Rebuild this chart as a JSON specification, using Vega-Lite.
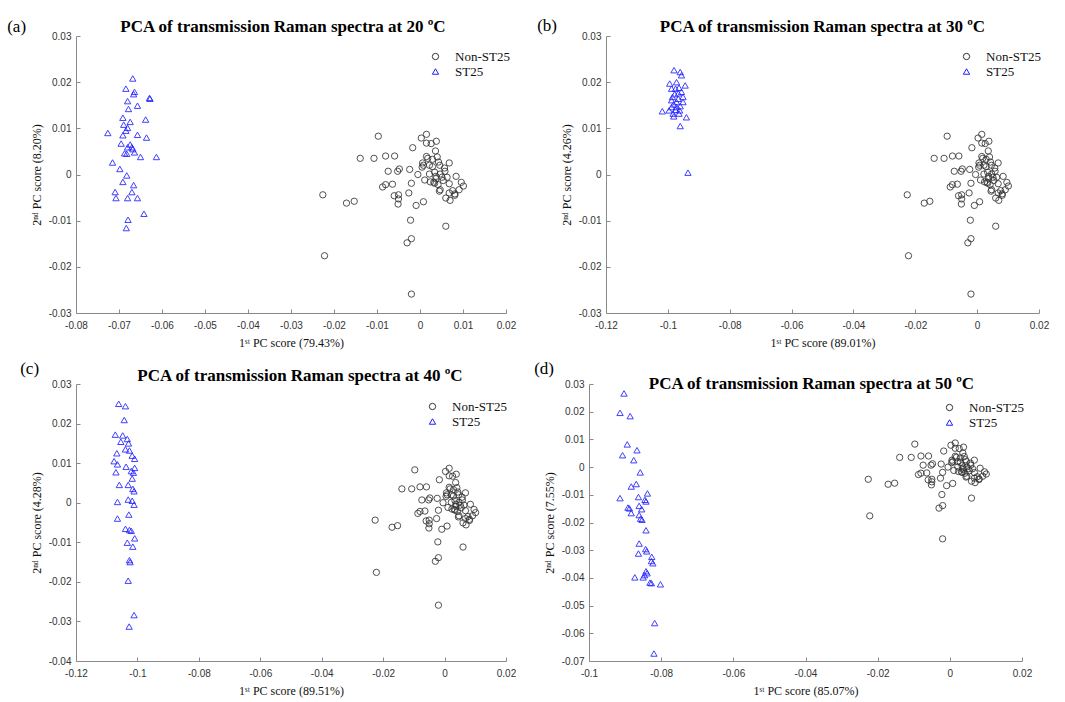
{
"$schema": "https://vega.github.io/schema/vega-lite/v6.json",
"background": "white",
"padding": {"left": 7, "top": 17, "right": 5, "bottom": 5},
"datasets": {
"non": [
{"group":"Non-ST25","pc1":-0.0226,"pc2":-0.0044},{"group":"Non-ST25","pc1":-0.0222,"pc2":-0.0176},{"group":"Non-ST25","pc1":-0.0171,"pc2":-0.0062},{"group":"Non-ST25","pc1":-0.0153,"pc2":-0.0058},{"group":"Non-ST25","pc1":-0.0139,"pc2":0.0035},{"group":"Non-ST25","pc1":-0.0107,"pc2":0.0035},{"group":"Non-ST25","pc1":-0.0097,"pc2":0.0083},{"group":"Non-ST25","pc1":-0.0080,"pc2":0.0040},{"group":"Non-ST25","pc1":-0.0059,"pc2":0.0040},{"group":"Non-ST25","pc1":-0.0074,"pc2":0.0007},{"group":"Non-ST25","pc1":-0.0052,"pc2":0.0007},{"group":"Non-ST25","pc1":-0.0048,"pc2":0.0012},{"group":"Non-ST25","pc1":-0.0087,"pc2":-0.0027},{"group":"Non-ST25","pc1":-0.0080,"pc2":-0.0022},{"group":"Non-ST25","pc1":-0.0064,"pc2":-0.0021},{"group":"Non-ST25","pc1":-0.0060,"pc2":-0.0046},{"group":"Non-ST25","pc1":-0.0050,"pc2":-0.0044},{"group":"Non-ST25","pc1":-0.0050,"pc2":-0.0053},{"group":"Non-ST25","pc1":-0.0051,"pc2":-0.0064},{"group":"Non-ST25","pc1":-0.0024,"pc2":0.0011},{"group":"Non-ST25","pc1":-0.0020,"pc2":-0.0019},{"group":"Non-ST25","pc1":-0.0026,"pc2":-0.0040},{"group":"Non-ST25","pc1":-0.0009,"pc2":-0.0067},{"group":"Non-ST25","pc1":0.0008,"pc2":-0.0059},{"group":"Non-ST25","pc1":-0.0017,"pc2":0.0058},{"group":"Non-ST25","pc1":-0.0022,"pc2":-0.0099},{"group":"Non-ST25","pc1":-0.0020,"pc2":-0.0139},{"group":"Non-ST25","pc1":-0.0030,"pc2":-0.0148},{"group":"Non-ST25","pc1":-0.0020,"pc2":-0.0259},{"group":"Non-ST25","pc1":0.0060,"pc2":-0.0112},{"group":"Non-ST25","pc1":-0.0005,"pc2":0.0000},{"group":"Non-ST25","pc1":0.0003,"pc2":0.0079},{"group":"Non-ST25","pc1":0.0015,"pc2":0.0087},{"group":"Non-ST25","pc1":0.0026,"pc2":0.0067},{"group":"Non-ST25","pc1":0.0038,"pc2":0.0072},{"group":"Non-ST25","pc1":0.0015,"pc2":0.0068},{"group":"Non-ST25","pc1":0.0006,"pc2":0.0025},{"group":"Non-ST25","pc1":0.0015,"pc2":0.0039},{"group":"Non-ST25","pc1":0.0018,"pc2":0.0035},{"group":"Non-ST25","pc1":0.0036,"pc2":0.0051},{"group":"Non-ST25","pc1":0.0040,"pc2":0.0038},{"group":"Non-ST25","pc1":0.0043,"pc2":0.0027},{"group":"Non-ST25","pc1":0.0046,"pc2":0.0020},{"group":"Non-ST25","pc1":0.0029,"pc2":0.0017},{"group":"Non-ST25","pc1":0.0022,"pc2":0.0001},{"group":"Non-ST25","pc1":0.0034,"pc2":0.0005},{"group":"Non-ST25","pc1":0.0037,"pc2":-0.0009},{"group":"Non-ST25","pc1":0.0047,"pc2":0.0001},{"group":"Non-ST25","pc1":0.0051,"pc2":-0.0006},{"group":"Non-ST25","pc1":0.0058,"pc2":0.0007},{"group":"Non-ST25","pc1":0.0068,"pc2":0.0025},{"group":"Non-ST25","pc1":0.0063,"pc2":-0.0006},{"group":"Non-ST25","pc1":0.0034,"pc2":-0.0019},{"group":"Non-ST25","pc1":0.0047,"pc2":-0.0033},{"group":"Non-ST25","pc1":0.0045,"pc2":-0.0036},{"group":"Non-ST25","pc1":0.0068,"pc2":-0.0020},{"group":"Non-ST25","pc1":0.0068,"pc2":-0.0040},{"group":"Non-ST25","pc1":0.0081,"pc2":-0.0042},{"group":"Non-ST25","pc1":0.0084,"pc2":-0.0004},{"group":"Non-ST25","pc1":0.0091,"pc2":-0.0033},{"group":"Non-ST25","pc1":0.0101,"pc2":-0.0025},{"group":"Non-ST25","pc1":0.0096,"pc2":-0.0017},{"group":"Non-ST25","pc1":0.0060,"pc2":-0.0051},{"group":"Non-ST25","pc1":0.0070,"pc2":-0.0056},{"group":"Non-ST25","pc1":0.0081,"pc2":-0.0045},{"group":"Non-ST25","pc1":0.0008,"pc2":0.0020},{"group":"Non-ST25","pc1":0.0022,"pc2":0.0020},{"group":"Non-ST25","pc1":0.0011,"pc2":-0.0012},{"group":"Non-ST25","pc1":0.0024,"pc2":-0.0016},{"group":"Non-ST25","pc1":0.0054,"pc2":-0.0013},{"group":"Non-ST25","pc1":0.0037,"pc2":-0.0004},{"group":"Non-ST25","pc1":0.0057,"pc2":0.0014},{"group":"Non-ST25","pc1":0.0029,"pc2":0.0033},{"group":"Non-ST25","pc1":0.0005,"pc2":0.0016},{"group":"Non-ST25","pc1":0.0032,"pc2":-0.0017},{"group":"Non-ST25","pc1":0.0042,"pc2":-0.0022},{"group":"Non-ST25","pc1":0.0076,"pc2":-0.0035}
],
"st": [
{"panel":"a","group":"ST25","pc1":-0.0668,"pc2":0.0208},{"panel":"a","group":"ST25","pc1":-0.0684,"pc2":0.0186},{"panel":"a","group":"ST25","pc1":-0.0664,"pc2":0.0179},{"panel":"a","group":"ST25","pc1":-0.0666,"pc2":0.0174},{"panel":"a","group":"ST25","pc1":-0.0629,"pc2":0.0166},{"panel":"a","group":"ST25","pc1":-0.0628,"pc2":0.0164},{"panel":"a","group":"ST25","pc1":-0.0680,"pc2":0.0159},{"panel":"a","group":"ST25","pc1":-0.0657,"pc2":0.0149},{"panel":"a","group":"ST25","pc1":-0.0678,"pc2":0.0142},{"panel":"a","group":"ST25","pc1":-0.0638,"pc2":0.0119},{"panel":"a","group":"ST25","pc1":-0.0691,"pc2":0.0123},{"panel":"a","group":"ST25","pc1":-0.0674,"pc2":0.0114},{"panel":"a","group":"ST25","pc1":-0.0689,"pc2":0.0108},{"panel":"a","group":"ST25","pc1":-0.0680,"pc2":0.0101},{"panel":"a","group":"ST25","pc1":-0.0684,"pc2":0.0095},{"panel":"a","group":"ST25","pc1":-0.0726,"pc2":0.0090},{"panel":"a","group":"ST25","pc1":-0.0657,"pc2":0.0086},{"panel":"a","group":"ST25","pc1":-0.0691,"pc2":0.0085},{"panel":"a","group":"ST25","pc1":-0.0636,"pc2":0.0080},{"panel":"a","group":"ST25","pc1":-0.0695,"pc2":0.0067},{"panel":"a","group":"ST25","pc1":-0.0674,"pc2":0.0065},{"panel":"a","group":"ST25","pc1":-0.0680,"pc2":0.0059},{"panel":"a","group":"ST25","pc1":-0.0668,"pc2":0.0055},{"panel":"a","group":"ST25","pc1":-0.0670,"pc2":0.0059},{"panel":"a","group":"ST25","pc1":-0.0664,"pc2":0.0048},{"panel":"a","group":"ST25","pc1":-0.0687,"pc2":0.0046},{"panel":"a","group":"ST25","pc1":-0.0682,"pc2":0.0045},{"panel":"a","group":"ST25","pc1":-0.0650,"pc2":0.0038},{"panel":"a","group":"ST25","pc1":-0.0613,"pc2":0.0038},{"panel":"a","group":"ST25","pc1":-0.0715,"pc2":0.0026},{"panel":"a","group":"ST25","pc1":-0.0698,"pc2":0.0012},{"panel":"a","group":"ST25","pc1":-0.0682,"pc2":-0.0002},{"panel":"a","group":"ST25","pc1":-0.0691,"pc2":-0.0016},{"panel":"a","group":"ST25","pc1":-0.0666,"pc2":-0.0023},{"panel":"a","group":"ST25","pc1":-0.0709,"pc2":-0.0038},{"panel":"a","group":"ST25","pc1":-0.0670,"pc2":-0.0038},{"panel":"a","group":"ST25","pc1":-0.0707,"pc2":-0.0051},{"panel":"a","group":"ST25","pc1":-0.0680,"pc2":-0.0051},{"panel":"a","group":"ST25","pc1":-0.0657,"pc2":-0.0051},{"panel":"a","group":"ST25","pc1":-0.0642,"pc2":-0.0085},{"panel":"a","group":"ST25","pc1":-0.0679,"pc2":-0.0098},{"panel":"a","group":"ST25","pc1":-0.0683,"pc2":-0.0116},
{"panel":"b","group":"ST25","pc1":-0.0980,"pc2":0.0226},{"panel":"b","group":"ST25","pc1":-0.0960,"pc2":0.0222},{"panel":"b","group":"ST25","pc1":-0.0956,"pc2":0.0215},{"panel":"b","group":"ST25","pc1":-0.0994,"pc2":0.0197},{"panel":"b","group":"ST25","pc1":-0.0972,"pc2":0.0200},{"panel":"b","group":"ST25","pc1":-0.0944,"pc2":0.0193},{"panel":"b","group":"ST25","pc1":-0.0988,"pc2":0.0186},{"panel":"b","group":"ST25","pc1":-0.0964,"pc2":0.0188},{"panel":"b","group":"ST25","pc1":-0.0978,"pc2":0.0174},{"panel":"b","group":"ST25","pc1":-0.0956,"pc2":0.0179},{"panel":"b","group":"ST25","pc1":-0.0988,"pc2":0.0161},{"panel":"b","group":"ST25","pc1":-0.0966,"pc2":0.0164},{"panel":"b","group":"ST25","pc1":-0.0951,"pc2":0.0157},{"panel":"b","group":"ST25","pc1":-0.0981,"pc2":0.0152},{"panel":"b","group":"ST25","pc1":-0.0972,"pc2":0.0146},{"panel":"b","group":"ST25","pc1":-0.0960,"pc2":0.0148},{"panel":"b","group":"ST25","pc1":-0.1018,"pc2":0.0137},{"panel":"b","group":"ST25","pc1":-0.0996,"pc2":0.0139},{"panel":"b","group":"ST25","pc1":-0.0983,"pc2":0.0132},{"panel":"b","group":"ST25","pc1":-0.0964,"pc2":0.0132},{"panel":"b","group":"ST25","pc1":-0.0981,"pc2":0.0126},{"panel":"b","group":"ST25","pc1":-0.0940,"pc2":0.0124},{"panel":"b","group":"ST25","pc1":-0.0960,"pc2":0.0105},{"panel":"b","group":"ST25","pc1":-0.0935,"pc2":0.0004},{"panel":"b","group":"ST25","pc1":-0.0975,"pc2":0.0140},{"panel":"b","group":"ST25","pc1":-0.0966,"pc2":0.0176},{"panel":"b","group":"ST25","pc1":-0.0985,"pc2":0.0168},{"panel":"b","group":"ST25","pc1":-0.0972,"pc2":0.0157},{"panel":"b","group":"ST25","pc1":-0.0962,"pc2":0.0139},{"panel":"b","group":"ST25","pc1":-0.0975,"pc2":0.0186},{"panel":"b","group":"ST25","pc1":-0.0951,"pc2":0.0168},{"panel":"b","group":"ST25","pc1":-0.0988,"pc2":0.0146},
{"panel":"c","group":"ST25","pc1":-0.1061,"pc2":0.0250},{"panel":"c","group":"ST25","pc1":-0.1039,"pc2":0.0244},{"panel":"c","group":"ST25","pc1":-0.1043,"pc2":0.0209},{"panel":"c","group":"ST25","pc1":-0.1072,"pc2":0.0172},{"panel":"c","group":"ST25","pc1":-0.1048,"pc2":0.0170},{"panel":"c","group":"ST25","pc1":-0.1033,"pc2":0.0161},{"panel":"c","group":"ST25","pc1":-0.1054,"pc2":0.0154},{"panel":"c","group":"ST25","pc1":-0.1029,"pc2":0.0150},{"panel":"c","group":"ST25","pc1":-0.1039,"pc2":0.0135},{"panel":"c","group":"ST25","pc1":-0.1026,"pc2":0.0132},{"panel":"c","group":"ST25","pc1":-0.1067,"pc2":0.0125},{"panel":"c","group":"ST25","pc1":-0.1017,"pc2":0.0119},{"panel":"c","group":"ST25","pc1":-0.1009,"pc2":0.0111},{"panel":"c","group":"ST25","pc1":-0.1076,"pc2":0.0105},{"panel":"c","group":"ST25","pc1":-0.1065,"pc2":0.0097},{"panel":"c","group":"ST25","pc1":-0.1037,"pc2":0.0091},{"panel":"c","group":"ST25","pc1":-0.1009,"pc2":0.0088},{"panel":"c","group":"ST25","pc1":-0.1020,"pc2":0.0080},{"panel":"c","group":"ST25","pc1":-0.1013,"pc2":0.0076},{"panel":"c","group":"ST25","pc1":-0.1070,"pc2":0.0077},{"panel":"c","group":"ST25","pc1":-0.1017,"pc2":0.0061},{"panel":"c","group":"ST25","pc1":-0.1059,"pc2":0.0045},{"panel":"c","group":"ST25","pc1":-0.1030,"pc2":0.0045},{"panel":"c","group":"ST25","pc1":-0.1015,"pc2":0.0035},{"panel":"c","group":"ST25","pc1":-0.1011,"pc2":0.0029},{"panel":"c","group":"ST25","pc1":-0.1065,"pc2":0.0002},{"panel":"c","group":"ST25","pc1":-0.1030,"pc2":0.0008},{"panel":"c","group":"ST25","pc1":-0.1017,"pc2":0.0005},{"panel":"c","group":"ST25","pc1":-0.1011,"pc2":-0.0005},{"panel":"c","group":"ST25","pc1":-0.1028,"pc2":-0.0030},{"panel":"c","group":"ST25","pc1":-0.1065,"pc2":-0.0040},{"panel":"c","group":"ST25","pc1":-0.1039,"pc2":-0.0066},{"panel":"c","group":"ST25","pc1":-0.1026,"pc2":-0.0069},{"panel":"c","group":"ST25","pc1":-0.1020,"pc2":-0.0071},{"panel":"c","group":"ST25","pc1":-0.1009,"pc2":-0.0090},{"panel":"c","group":"ST25","pc1":-0.1033,"pc2":-0.0101},{"panel":"c","group":"ST25","pc1":-0.1015,"pc2":-0.0111},{"panel":"c","group":"ST25","pc1":-0.1026,"pc2":-0.0145},{"panel":"c","group":"ST25","pc1":-0.1024,"pc2":-0.0150},{"panel":"c","group":"ST25","pc1":-0.1030,"pc2":-0.0197},{"panel":"c","group":"ST25","pc1":-0.1011,"pc2":-0.0284},{"panel":"c","group":"ST25","pc1":-0.1027,"pc2":-0.0313},
{"panel":"d","group":"ST25","pc1":-0.0903,"pc2":0.0266},{"panel":"d","group":"ST25","pc1":-0.0914,"pc2":0.0196},{"panel":"d","group":"ST25","pc1":-0.0886,"pc2":0.0184},{"panel":"d","group":"ST25","pc1":-0.0894,"pc2":0.0082},{"panel":"d","group":"ST25","pc1":-0.0867,"pc2":0.0061},{"panel":"d","group":"ST25","pc1":-0.0907,"pc2":0.0043},{"panel":"d","group":"ST25","pc1":-0.0876,"pc2":0.0025},{"panel":"d","group":"ST25","pc1":-0.0858,"pc2":-0.0019},{"panel":"d","group":"ST25","pc1":-0.0869,"pc2":-0.0061},{"panel":"d","group":"ST25","pc1":-0.0883,"pc2":-0.0070},{"panel":"d","group":"ST25","pc1":-0.0914,"pc2":-0.0112},{"panel":"d","group":"ST25","pc1":-0.0838,"pc2":-0.0095},{"panel":"d","group":"ST25","pc1":-0.0863,"pc2":-0.0108},{"panel":"d","group":"ST25","pc1":-0.0845,"pc2":-0.0118},{"panel":"d","group":"ST25","pc1":-0.0842,"pc2":-0.0124},{"panel":"d","group":"ST25","pc1":-0.0892,"pc2":-0.0146},{"panel":"d","group":"ST25","pc1":-0.0888,"pc2":-0.0149},{"panel":"d","group":"ST25","pc1":-0.0861,"pc2":-0.0140},{"panel":"d","group":"ST25","pc1":-0.0854,"pc2":-0.0152},{"panel":"d","group":"ST25","pc1":-0.0883,"pc2":-0.0166},{"panel":"d","group":"ST25","pc1":-0.0861,"pc2":-0.0173},{"panel":"d","group":"ST25","pc1":-0.0857,"pc2":-0.0186},{"panel":"d","group":"ST25","pc1":-0.0853,"pc2":-0.0190},{"panel":"d","group":"ST25","pc1":-0.0842,"pc2":-0.0228},{"panel":"d","group":"ST25","pc1":-0.0861,"pc2":-0.0276},{"panel":"d","group":"ST25","pc1":-0.0843,"pc2":-0.0296},{"panel":"d","group":"ST25","pc1":-0.0840,"pc2":-0.0304},{"panel":"d","group":"ST25","pc1":-0.0863,"pc2":-0.0312},{"panel":"d","group":"ST25","pc1":-0.0826,"pc2":-0.0324},{"panel":"d","group":"ST25","pc1":-0.0827,"pc2":-0.0339},{"panel":"d","group":"ST25","pc1":-0.0823,"pc2":-0.0347},{"panel":"d","group":"ST25","pc1":-0.0842,"pc2":-0.0376},{"panel":"d","group":"ST25","pc1":-0.0839,"pc2":-0.0383},{"panel":"d","group":"ST25","pc1":-0.0846,"pc2":-0.0390},{"panel":"d","group":"ST25","pc1":-0.0873,"pc2":-0.0398},{"panel":"d","group":"ST25","pc1":-0.0850,"pc2":-0.0398},{"panel":"d","group":"ST25","pc1":-0.0831,"pc2":-0.0417},{"panel":"d","group":"ST25","pc1":-0.0827,"pc2":-0.0419},{"panel":"d","group":"ST25","pc1":-0.0802,"pc2":-0.0423},{"panel":"d","group":"ST25","pc1":-0.0818,"pc2":-0.0563},{"panel":"d","group":"ST25","pc1":-0.0820,"pc2":-0.0673}
]
},
"config": {
"view": {"stroke": null},
"axis": {"grid": false, "labelFlush": false, "labelFont": "Liberation Sans", "labelFontSize": 10, "labelColor": "#333333", "domainColor": "#8a8a8a", "tickColor": "#8a8a8a", "tickSize": -4, "titleFont": "Liberation Serif", "titleFontSize": 12, "titleFontWeight": "normal", "titleColor": "#111111"},
"axisX": {"labelPadding": 11, "titlePadding": 7},
"axisY": {"labelPadding": 9, "titlePadding": 5},
"title": {"font": "Liberation Serif", "fontSize": 17, "fontWeight": "bold", "color": "#000000", "offset": -3},
"legend": {"orient": "none", "title": null, "labelFont": "Liberation Serif", "labelFontSize": 13, "labelColor": "#111111", "symbolSize": 40, "symbolStrokeWidth": 1, "rowPadding": 1, "padding": 0, "labelOffset": 13},
"point": {"filled": false, "size": 40, "strokeWidth": 1, "opacity": 0.85}
},
"resolve": {"scale": {"color": "independent", "shape": "independent"}},
"spacing": 12,
"vconcat": [
{
"spacing": 21,
"resolve": {"scale": {"color": "independent", "shape": "independent"}},
"hconcat": [
{
"title": {"text": "(a)", "anchor": "start", "font": "Liberation Serif", "fontSize": 17, "fontWeight": "normal", "offset": 0, "dy": 18, "dx": -23},
"resolve": {"scale": {"color": "independent", "shape": "independent"}},
"vconcat": [{
"width": 430, "height": 277,
"title": {"text": "PCA of transmission Raman spectra at 20 ºC", "dx": -8, "dy": 2},
"encoding": {
"x": {"field": "pc1", "type": "quantitative", "scale": {"domain": [-0.08, 0.02], "nice": false, "zero": false}, "axis": {"title": "1ˢᵗ PC score (79.43%)", "values": [-0.08, -0.07, -0.06, -0.05, -0.04, -0.03, -0.02, -0.01, 0, 0.01, 0.02], "labelExpr": "'' + datum.value"}},
"y": {"field": "pc2", "type": "quantitative", "scale": {"domain": [-0.03, 0.03], "nice": false, "zero": false}, "axis": {"title": "2ⁿᵈ PC score (8.20%)", "values": [-0.03, -0.02, -0.01, 0, 0.01, 0.02, 0.03], "labelExpr": "'' + datum.value"}},
"color": {"field": "group", "type": "nominal", "scale": {"domain": ["Non-ST25", "ST25"], "range": ["#333333", "#1f1fff"]}, "legend": {"legendX": 353, "legendY": 14, "labelFont": "Liberation Serif"}},
"shape": {"field": "group", "type": "nominal", "scale": {"domain": ["Non-ST25", "ST25"], "range": ["circle", "triangle-up"]}}
},
"layer": [
{"data": {"name": "non"}, "mark": "point"},
{"data": {"name": "st"}, "transform": [{"filter": "datum.panel == 'a'"}], "mark": "point"}
]
}]
},
{
"title": {"text": "(b)", "anchor": "start", "font": "Liberation Serif", "fontSize": 17, "fontWeight": "normal", "offset": 0, "dy": 17, "dx": -23},
"resolve": {"scale": {"color": "independent", "shape": "independent"}},
"vconcat": [{
"width": 433, "height": 277,
"title": {"text": "PCA of transmission Raman spectra at 30 ºC", "dx": 0, "dy": 2},
"encoding": {
"x": {"field": "pc1", "type": "quantitative", "scale": {"domain": [-0.12, 0.02], "nice": false, "zero": false}, "axis": {"title": "1ˢᵗ PC score (89.01%)", "values": [-0.12, -0.1, -0.08, -0.06, -0.04, -0.02, 0, 0.02], "labelExpr": "'' + datum.value"}},
"y": {"field": "pc2", "type": "quantitative", "scale": {"domain": [-0.03, 0.03], "nice": false, "zero": false}, "axis": {"title": "2ⁿᵈ PC score (4.26%)", "values": [-0.03, -0.02, -0.01, 0, 0.01, 0.02, 0.03], "labelExpr": "'' + datum.value"}},
"color": {"field": "group", "type": "nominal", "scale": {"domain": ["Non-ST25", "ST25"], "range": ["#333333", "#1f1fff"]}, "legend": {"legendX": 354, "legendY": 14, "labelFont": "Liberation Serif"}},
"shape": {"field": "group", "type": "nominal", "scale": {"domain": ["Non-ST25", "ST25"], "range": ["circle", "triangle-up"]}}
},
"layer": [
{"data": {"name": "non"}, "mark": "point"},
{"data": {"name": "st"}, "transform": [{"filter": "datum.panel == 'b'"}], "mark": "point"}
]
}]
}
]
},
{
"spacing": 18,
"resolve": {"scale": {"color": "independent", "shape": "independent"}},
"hconcat": [
{
"title": {"text": "(c)", "anchor": "start", "font": "Liberation Serif", "fontSize": 17, "fontWeight": "normal", "offset": 0, "dy": 11, "dx": -10},
"resolve": {"scale": {"color": "independent", "shape": "independent"}},
"vconcat": [{
"width": 430, "height": 277,
"title": {"text": "PCA of transmission Raman spectra at 40 ºC", "dx": 9, "dy": 3},
"encoding": {
"x": {"field": "pc1", "type": "quantitative", "scale": {"domain": [-0.12, 0.02], "nice": false, "zero": false}, "axis": {"title": "1ˢᵗ PC score (89.51%)", "values": [-0.12, -0.1, -0.08, -0.06, -0.04, -0.02, 0, 0.02], "labelExpr": "'' + datum.value"}},
"y": {"field": "pc2", "type": "quantitative", "scale": {"domain": [-0.04, 0.03], "nice": false, "zero": false}, "axis": {"title": "2ⁿᵈ PC score (4.28%)", "values": [-0.04, -0.03, -0.02, -0.01, 0, 0.01, 0.02, 0.03], "labelExpr": "'' + datum.value"}},
"color": {"field": "group", "type": "nominal", "scale": {"domain": ["Non-ST25", "ST25"], "range": ["#333333", "#1f1fff"]}, "legend": {"legendX": 350, "legendY": 16, "labelFont": "Liberation Serif"}},
"shape": {"field": "group", "type": "nominal", "scale": {"domain": ["Non-ST25", "ST25"], "range": ["circle", "triangle-up"]}}
},
"layer": [
{"data": {"name": "non"}, "mark": "point"},
{"data": {"name": "st"}, "transform": [{"filter": "datum.panel == 'c'"}], "mark": "point"}
]
}]
},
{
"title": {"text": "(d)", "anchor": "start", "font": "Liberation Serif", "fontSize": 17, "fontWeight": "normal", "offset": 0, "dy": 3, "dx": -9},
"resolve": {"scale": {"color": "independent", "shape": "independent"}},
"vconcat": [{
"width": 433, "height": 277,
"title": {"text": "PCA of transmission Raman spectra at 50 ºC", "dx": 6, "dy": 11},
"encoding": {
"x": {"field": "pc1", "type": "quantitative", "scale": {"domain": [-0.1, 0.02], "nice": false, "zero": false}, "axis": {"title": "1ˢᵗ PC score (85.07%)", "values": [-0.1, -0.08, -0.06, -0.04, -0.02, 0, 0.02], "labelExpr": "'' + datum.value"}},
"y": {"field": "pc2", "type": "quantitative", "scale": {"domain": [-0.07, 0.03], "nice": false, "zero": false}, "axis": {"title": "2ⁿᵈ PC score (7.55%)", "values": [-0.07, -0.06, -0.05, -0.04, -0.03, -0.02, -0.01, 0, 0.01, 0.02, 0.03], "labelExpr": "'' + datum.value"}},
"color": {"field": "group", "type": "nominal", "scale": {"domain": ["Non-ST25", "ST25"], "range": ["#333333", "#1f1fff"]}, "legend": {"legendX": 354, "legendY": 17, "labelFont": "Liberation Serif"}},
"shape": {"field": "group", "type": "nominal", "scale": {"domain": ["Non-ST25", "ST25"], "range": ["circle", "triangle-up"]}}
},
"layer": [
{"data": {"name": "non"}, "mark": "point"},
{"data": {"name": "st"}, "transform": [{"filter": "datum.panel == 'd'"}], "mark": "point"}
]
}]
}
]
}
]
}
